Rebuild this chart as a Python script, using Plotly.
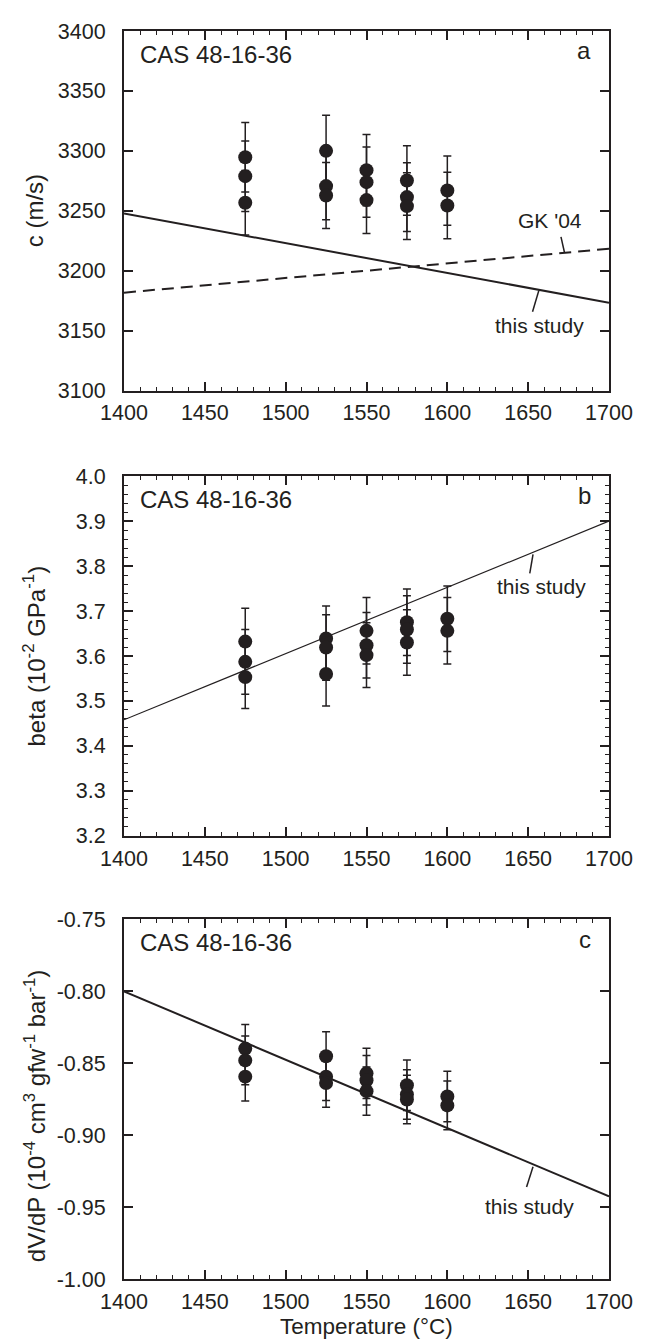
import plotly.graph_objects as go

# measured temperatures (deg C)
temps = [1475, 1475, 1475, 1525, 1525, 1525, 1550, 1550, 1550,
         1575, 1575, 1575, 1600, 1600]

# panel a - sound speed c (m/s)
c_vals = [3294.7, 3278.9, 3256.7, 3300.0, 3270.6, 3262.8, 3283.9, 3273.9, 3258.9,
          3275.3, 3261.4, 3253.9, 3266.9, 3254.4]
c_err = [29.0, 29.4, 27.0, 29.7, 28.0, 27.5, 29.7, 29.4, 27.8,
         29.0, 28.6, 27.8, 28.9, 27.7]

# panel b - compressibility beta (10^-2 GPa^-1)
beta_vals = [3.632, 3.587, 3.553, 3.639, 3.619, 3.560, 3.656, 3.624, 3.602,
             3.675, 3.659, 3.630, 3.683, 3.656]
beta_err = [0.074, 0.072, 0.070, 0.072, 0.073, 0.071, 0.074, 0.073, 0.072,
            0.074, 0.075, 0.073, 0.073, 0.074]

# panel c - dV/dP (10^-4 cm3 gfw^-1 bar^-1)
dvdp_vals = [-0.8398, -0.8480, -0.8593, -0.8451, -0.8593, -0.8637, -0.8570, -0.8618, -0.8694,
             -0.8653, -0.8717, -0.8752, -0.8731, -0.8793]
dvdp_err = [0.0168, 0.0170, 0.0170, 0.0170, 0.0166, 0.0168, 0.0175, 0.0172, 0.0168,
            0.0175, 0.0172, 0.0168, 0.0175, 0.0170]

# model lines, evaluated at the ends of the temperature axis
line_T = [1400, 1700]
c_this_study = [3247.8, 3173.3]
c_gk04 = [3181.7, 3218.3]
beta_this_study = [3.458, 3.900]
dvdp_this_study = [-0.800, -0.9426]

# tick labels
c_ticks = [3100, 3150, 3200, 3250, 3300, 3350, 3400]
beta_ticks = [3.2, 3.3, 3.4, 3.5, 3.6, 3.7, 3.8, 3.9, 4.0]
dvdp_ticks = [-1.00, -0.95, -0.90, -0.85, -0.80, -0.75]
dvdp_ticktext = ["-1.00", "-0.95", "-0.90", "-0.85", "-0.80", "-0.75"]

INK = "#231f20"
FONT = "Liberation Sans, Arial, sans-serif"
OFF = 8  # default body margin of the html page
W, H = 645 - OFF, 1343 - OFF
ML, MT = 124 - OFF, 26 - OFF
MR = W - (617 - OFF)
MB = H - (1279 - OFF)
PW = W - ML - MR
PH = H - MT - MB


def pgy(py):
    # page pixel row -> paper y
    return (H - MB - (py - OFF)) / PH


def dom(top_px, bot_px):
    return [pgy(bot_px), pgy(top_px)]


fig = go.Figure()

panels = [("x", "y", c_vals, c_err), ("x2", "y2", beta_vals, beta_err), ("x3", "y3", dvdp_vals, dvdp_err)]
for xa, ya, vals, errs in panels:
    fig.add_trace(go.Scatter(
        x=temps, y=vals, xaxis=xa, yaxis=ya, mode="markers",
        marker=dict(size=14, color=INK),
        error_y=dict(type="data", array=errs, visible=True, color=INK, thickness=1.5, width=4),
        showlegend=False))

fig.add_trace(go.Scatter(x=line_T, y=c_this_study, xaxis="x", yaxis="y", mode="lines",
                         line=dict(color=INK, width=2), showlegend=False))
fig.add_trace(go.Scatter(x=line_T, y=c_gk04, xaxis="x", yaxis="y", mode="lines",
                         line=dict(color=INK, width=2, dash="12px,7px"), showlegend=False))
fig.add_trace(go.Scatter(x=line_T, y=beta_this_study, xaxis="x2", yaxis="y2", mode="lines",
                         line=dict(color=INK, width=1.2), showlegend=False))
fig.add_trace(go.Scatter(x=line_T, y=dvdp_this_study, xaxis="x3", yaxis="y3", mode="lines",
                         line=dict(color=INK, width=2), showlegend=False))

xcommon = dict(range=[1400, 1700], tickmode="linear", tick0=1400, dtick=50,
               ticks="inside", ticklen=9, tickwidth=1.5, tickcolor=INK,
               minor=dict(dtick=10, ticks="inside", ticklen=4, tickwidth=1.2, tickcolor=INK),
               showline=True, linewidth=2, linecolor=INK, mirror="allticks",
               showgrid=False, zeroline=False, ticklabelstandoff=2,
               tickfont=dict(family=FONT, size=21.5, color=INK))
ycommon = dict(ticks="inside", ticklen=9, tickwidth=1.5, tickcolor=INK,
               showline=True, linewidth=2, linecolor=INK, mirror="allticks",
               showgrid=False, zeroline=False, ticklabelstandoff=12,
               tickfont=dict(family=FONT, size=21.5, color=INK))

fig.update_layout(
    width=W, height=H,
    margin=dict(l=ML, r=MR, t=MT, b=MB),
    paper_bgcolor="white", plot_bgcolor="white",
    xaxis=dict(xcommon, anchor="y"),
    xaxis2=dict(xcommon, anchor="y2"),
    xaxis3=dict(xcommon, anchor="y3"),
    yaxis=dict(ycommon, domain=dom(26, 387), range=[3100, 3400],
               tickmode="array", tickvals=c_ticks),
    yaxis2=dict(ycommon, domain=dom(473, 834), range=[3.2, 4.0],
                tickmode="array", tickvals=beta_ticks, tickformat=".1f",
                minor=dict(tickmode="linear", tick0=3.2, dtick=0.02, ticks="inside",
                           ticklen=4, tickwidth=1.2, tickcolor=INK)),
    yaxis3=dict(ycommon, domain=dom(918, 1279), range=[-1.0, -0.75],
                tickmode="array", tickvals=dvdp_ticks, ticktext=dvdp_ticktext),
)

ann = []
for xr, yr, letter in [("x", "y", "a"), ("x2", "y2", "b"), ("x3", "y3", "c")]:
    ann.append(dict(text="CAS 48-16-36", xref=xr + " domain", yref=yr + " domain",
                    x=0.028, y=0.936, xanchor="left", yanchor="middle", showarrow=False,
                    font=dict(family=FONT, size=24, color=INK)))
    ann.append(dict(text=letter, xref=xr + " domain", yref=yr + " domain",
                    x=0.968, y=0.945, xanchor="right", yanchor="middle", showarrow=False,
                    font=dict(family=FONT, size=24, color=INK)))

# line labels
lab = dict(showarrow=False, xanchor="center", yanchor="middle", font=dict(family=FONT, size=21, color=INK))
ann.append(dict(lab, text="this study", xref="x", yref="y", x=1657, y=3154.7))
ann.append(dict(lab, text="GK '04", xref="x", yref="y", x=1663.4, y=3242))
ann.append(dict(lab, text="this study", xref="x2", yref="y2", x=1658, y=3.754))
ann.append(dict(lab, text="this study", xref="x3", yref="y3", x=1651, y=-0.9495))

# axis titles
tfont = dict(family=FONT, size=24, color=INK)
tx = (33 - OFF - ML) / PW
ann.append(dict(text="c (m/s)", xref="paper", yref="y domain", x=tx, y=0.5,
                textangle=-90, showarrow=False, xanchor="center", yanchor="middle", font=tfont))
ann.append(dict(text="beta (10<sup>-2</sup> GPa<sup>-1</sup>)", xref="paper", yref="y2 domain",
                x=tx, y=0.5, textangle=-90, showarrow=False,
                xanchor="center", yanchor="middle", font=tfont))
ann.append(dict(text="dV/dP (10<sup>-4</sup> cm<sup>3</sup> gfw<sup>-1</sup> bar<sup>-1</sup>)",
                xref="paper", yref="paper", x=tx, y=pgy(1115),
                textangle=-90, showarrow=False, xanchor="center", yanchor="middle", font=tfont))
ann.append(dict(text="Temperature (°C)", xref="paper", yref="paper", x=0.5, y=pgy(1327),
                showarrow=False, xanchor="center", yanchor="middle",
                font=dict(family=FONT, size=22.5, color=INK)))
fig.update_layout(annotations=ann)

# short leader strokes from the labels to their lines
leaders = [("x", "y", 1652.7, 3165.8, 1656.6, 3183.5),
           ("x", "y", 1670.3, 3228.3, 1672.5, 3215.0),
           ("x2", "y2", 1651, 3.7837, 1653, 3.826),
           ("x3", "y3", 1649, -0.936, 1653, -0.922)]
for xr, yr, x0, y0, x1, y1 in leaders:
    fig.add_shape(type="line", xref=xr, yref=yr, x0=x0, y0=y0, x1=x1, y1=y1,
                  line=dict(color=INK, width=1.5))

fig.write_html("out.html")
